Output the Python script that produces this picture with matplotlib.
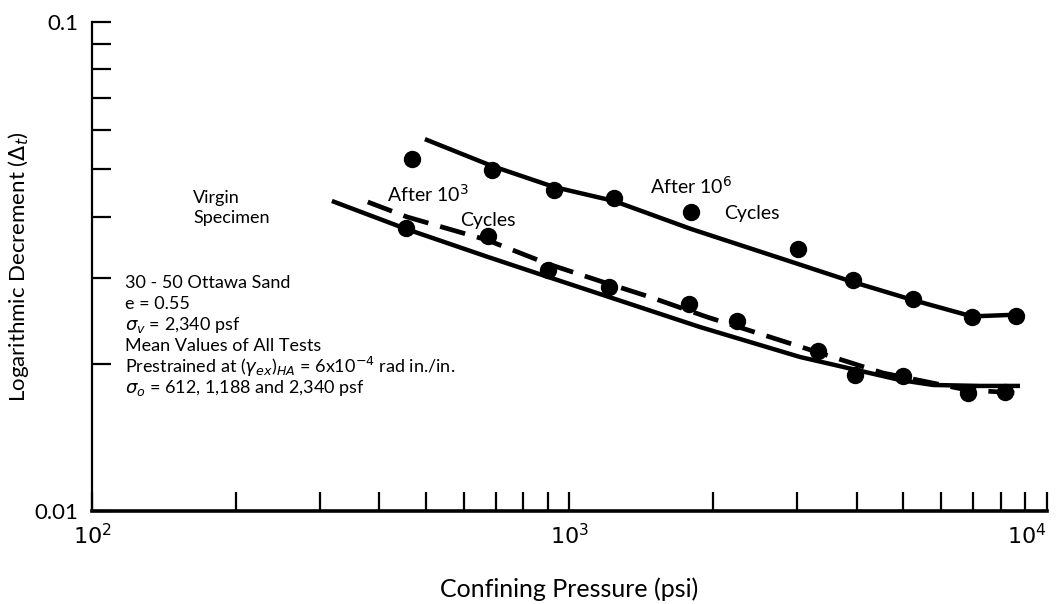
import numpy as np
import matplotlib
matplotlib.use('Agg')
import matplotlib.pyplot as plt
from matplotlib.ticker import LogLocator, NullFormatter, FixedLocator, FixedFormatter

plt.rcParams['font.family'] = ['Lato', 'DejaVu Sans']
plt.rcParams['mathtext.fontset'] = 'dejavusans'

# After 10^6 cycles - measured points
p6_dots = [468, 688, 928, 1239, 1797, 3010, 3925, 5240, 6966, 8610]
d6_dots = [0.0525, 0.0498, 0.0453, 0.0437, 0.0409, 0.0343, 0.0297, 0.0271, 0.0249, 0.0250]
# After 10^6 cycles - fitted curve
p6_curve = [498, 688, 928, 1239, 1797, 3010, 3925, 5240, 6966, 8610]
d6_curve = [0.0576, 0.05076, 0.04598, 0.04305, 0.03773, 0.0320, 0.02939, 0.0270, 0.0250, 0.0252]

# lower group of points (virgin + after 10^3)
plo_dots = [455, 675, 902, 1210, 1780, 2243, 3314, 3962, 4994, 6833, 8166]
dlo_dots = [0.0379, 0.0365, 0.0311, 0.0287, 0.0265, 0.0245, 0.0212, 0.0190, 0.0189, 0.0174, 0.0175]

# virgin specimen curve (solid)
pv_curve = [318, 455, 675, 902, 1158, 1876, 3039, 4922, 5772, 7239, 8781]
dv_curve = [0.04305, 0.03773, 0.03307, 0.03010, 0.02778, 0.02378, 0.02065, 0.01853, 0.01810, 0.01802, 0.01802]

# after 10^3 cycles curve (dashed)
p3_curve = [378, 457, 672, 902, 1158, 1474, 1941, 2592, 3298, 4535, 6800, 8654]
d3_curve = [0.04285, 0.03993, 0.03582, 0.0320, 0.02953, 0.02739, 0.02493, 0.02279, 0.02114, 0.01915, 0.01768, 0.01743]

info_lines = [
    '30 - 50 Ottawa Sand',
    'e = 0.55',
    r'$\sigma_v$ = 2,340 psf',
    'Mean Values of All Tests',
    r'Prestrained at ($\gamma_{ex}$)$_{HA}$ = 6x10$^{-4}$ rad in./in.',
    r'$\sigma_o$ = 612, 1,188 and 2,340 psf',
]

fig = plt.figure(figsize=(10.6, 6.04), dpi=100)
ax = fig.add_axes([0.0868, 0.154, 0.9009, 0.8096])
ax.set_xscale('log')
ax.set_yscale('log')
ax.set_xlim(100, 10000)
ax.set_ylim(0.01, 0.1)

ax.plot(p6_curve, d6_curve, color='black', lw=3.2, solid_capstyle='butt')
ax.plot(pv_curve, dv_curve, color='black', lw=3.2, solid_capstyle='butt')
ax.plot(p3_curve, d3_curve, color='black', lw=3.4, dashes=(5.5, 2.6))
ax.plot(p6_dots, d6_dots, 'o', color='black', ms=11.5)
ax.plot(plo_dots, dlo_dots, 'o', color='black', ms=11.5)

for s in ['top', 'right']:
    ax.spines[s].set_visible(False)
ax.spines['left'].set_linewidth(1.6)
ax.spines['bottom'].set_linewidth(2.6)

ax.xaxis.set_major_locator(FixedLocator([100, 1000, 10000]))
ax.xaxis.set_major_formatter(FixedFormatter([r'$10^2$', r'$10^3$', r'$10^4$']))
ax.xaxis.set_minor_locator(LogLocator(base=10, subs=np.arange(2, 10)))
ax.xaxis.set_minor_formatter(NullFormatter())
ax.yaxis.set_major_locator(FixedLocator([0.01, 0.1]))
ax.yaxis.set_major_formatter(FixedFormatter(['0.01', '0.1']))
ax.yaxis.set_minor_locator(LogLocator(base=10, subs=np.arange(2, 10)))
ax.yaxis.set_minor_formatter(NullFormatter())
ax.tick_params(which='both', direction='in', length=14, width=1.6, colors='black')
ax.tick_params(axis='x', which='major', labelsize=16, pad=9)
ax.tick_params(axis='y', which='major', labelsize=16, pad=10)
xt = ax.get_xticklabels()
xt[-1].set_horizontalalignment('right')
xt[-1].set_x(10000)

ax.set_xlabel('Confining Pressure (psi)', fontsize=18)
ax.set_ylabel(r'Logarithmic Decrement ($\Delta_t$)', fontsize=16)
ax.xaxis.set_label_coords(0.5, -0.135)
ax.yaxis.set_label_coords(-0.064, 0.5)

fs = 13
ax.text(0.106, 0.62, 'Virgin\nSpecimen', transform=ax.transAxes, fontsize=fs,
        va='center', ha='left', linespacing=1.3)
ax.text(0.309, 0.648, r'After 10$^3$', transform=ax.transAxes, fontsize=14, va='center')
ax.text(0.385, 0.595, 'Cycles', transform=ax.transAxes, fontsize=14, va='center')
ax.text(0.584, 0.665, r'After 10$^6$', transform=ax.transAxes, fontsize=14, va='center')
ax.text(0.662, 0.609, 'Cycles', transform=ax.transAxes, fontsize=14, va='center')

y0 = 0.466
for i, line in enumerate(info_lines):
    ax.text(0.0346, y0 - i * 0.0428, line, transform=ax.transAxes, fontsize=fs,
            va='center', ha='left')

fig.savefig('out.png', dpi=100)
